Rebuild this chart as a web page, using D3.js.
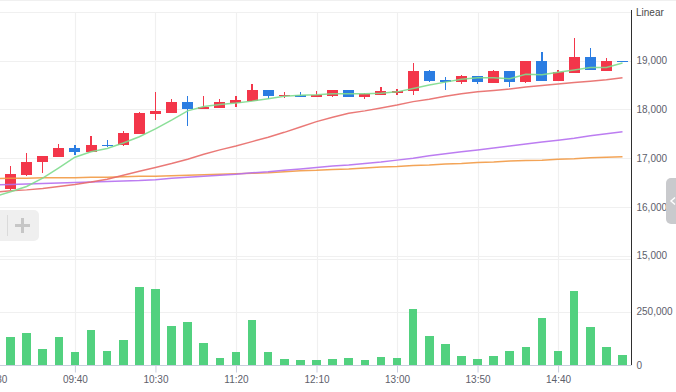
<!DOCTYPE html>
<html>
<head>
<meta charset="utf-8">
<script src="https://cdn.jsdelivr.net/npm/d3@7/dist/d3.min.js"></script>
<style>
    body { margin: 0; background: #ffffff; overflow: hidden; }
    svg text { font-family: "Liberation Sans", Arial, sans-serif; }
</style>
</head>
<body>
<svg class="chart"></svg>
<script>
//
// 10 minute candles for one session, with moving averages and volume underneath.
//

var times = ["09:00", "09:10", "09:20", "09:30", "09:40", "09:50", "10:00", "10:10", "10:20", "10:30",
             "10:40", "10:50", "11:00", "11:10", "11:20", "11:30", "11:40", "11:50", "12:00", "12:10",
             "12:20", "12:30", "12:40", "12:50", "13:00", "13:10", "13:20", "13:30", "13:40", "13:50",
             "14:00", "14:10", "14:20", "14:30", "14:40", "14:50", "15:00", "15:10", "15:20"];

var opens  = [16360, 16660, 16930, 17030, 17210, 17130, 17270, 17270, 17500, 17910,
              17930, 18150, 18010, 18030, 18130, 18170, 18400, 18270, 18300, 18250,
              18280, 18400, 18250, 18300, 18340, 18380, 18790, 18600, 18560, 18690,
              18540, 18790, 18560, 18990, 18580, 18750, 19080, 18790, 19000];
var highs  = [16830, 17110, 17040, 17290, 17270, 17460, 17370, 17560, 17950, 18360,
              18210, 18280, 18280, 18210, 18280, 18520, 18400, 18360, 18360, 18380,
              18400, 18400, 18340, 18460, 18420, 18950, 18810, 18660, 18710, 18690,
              18810, 18790, 18990, 19180, 18810, 19470, 19260, 19050, 19000];
var lows   = [16350, 16640, 16700, 17030, 17070, 17130, 17230, 17250, 17500, 17780,
              17930, 17660, 18010, 18030, 18050, 18170, 18210, 18230, 18250, 18250,
              18250, 18250, 18210, 18300, 18300, 18300, 18560, 18400, 18520, 18520,
              18540, 18460, 18540, 18580, 18580, 18750, 18810, 18790, 19000];
var closes = [16680, 16920, 17040, 17210, 17130, 17270, 17250, 17520, 17930, 17970,
              18150, 18010, 18050, 18150, 18190, 18400, 18280, 18300, 18250, 18300,
              18400, 18250, 18320, 18380, 18380, 18790, 18580, 18560, 18690, 18560,
              18790, 18560, 18990, 18580, 18770, 19080, 18810, 18990, 19000];

var volumes = [131000, 150000, 75000, 131000, 61000, 164000, 66000, 117000, 366000, 356000,
               183000, 202000, 103000, 33000, 61000, 211000, 61000, 28000, 23000, 23000,
               28000, 33000, 23000, 38000, 33000, 263000, 136000, 98000, 42000, 28000,
               42000, 66000, 84000, 220000, 66000, 347000, 178000, 84000, 47000];

// Moving averages. The first value of each belongs to the previous session's last bar (off screen on the left).
var ma5   = [16210, 16310, 16420, 16590, 16800, 17020, 17130, 17200, 17310, 17440, 17600,
             17780, 17970, 18060, 18100, 18130, 18170, 18220, 18270, 18290, 18300,
             18320, 18320, 18320, 18330, 18360, 18430, 18500, 18560, 18620, 18650,
             18650, 18630, 18720, 18710, 18760, 18810, 18860, 18860, 18950];
var ma20  = [16300, 16330, 16350, 16380, 16420, 16460, 16510, 16570, 16650, 16730, 16810,
             16890, 16980, 17080, 17170, 17250, 17340, 17430, 17530, 17640, 17750,
             17840, 17920, 17970, 18030, 18090, 18160, 18210, 18270, 18320, 18360,
             18390, 18420, 18460, 18490, 18520, 18550, 18580, 18610, 18650];
var ma60  = [16450, 16460, 16470, 16480, 16490, 16500, 16510, 16520, 16530, 16540, 16560,
             16590, 16610, 16630, 16650, 16670, 16700, 16720, 16750, 16780, 16810,
             16840, 16860, 16890, 16920, 16960, 17000, 17050, 17090, 17130, 17170,
             17210, 17250, 17290, 17330, 17370, 17410, 17460, 17500, 17540];
var ma120 = [16580, 16590, 16590, 16600, 16600, 16600, 16610, 16610, 16620, 16630, 16630,
             16640, 16650, 16660, 16670, 16680, 16690, 16700, 16720, 16740, 16750,
             16770, 16780, 16800, 16820, 16830, 16850, 16860, 16880, 16890, 16910,
             16920, 16940, 16950, 16960, 16980, 16990, 17010, 17020, 17030];

var priceTicks = [15000, 16000, 17000, 18000, 19000, 20000];
var priceLabels = ["15,000", "16,000", "17,000", "18,000", "19,000"];
var volumeTicks = [0, 250000];
var volumeLabels = ["0", "250,000"];
var timeTickIndex = [-1, 4, 9, 14, 19, 24, 29, 34]; // -1 is the previous session's last bar.
var timeTickLabels = ["10/30", "09:40", "10:30", "11:20", "12:10", "13:00", "13:50", "14:40"];

window.onload = function () {

    var width = 676;
    var height = 392;
    var axisX = 631.5; // Position of the right hand price axis.
    var upColor = "#f3364a";
    var downColor = "#2b7de2";
    var gridColor = "#f0f0f0";
    var textColor = "#5d606b";
    var fontSize = 10;

    var svgElement = d3.select("svg.chart")
        .attr("width", width)
        .attr("height", height);

    var x = d3.scaleLinear() // Bar index to pixel.
        .domain([0, times.length - 1])
        .range([10.5, 622.5]);

    var yPrice = d3.scaleLinear()
        .domain([15000, 20000])
        .range([255.7, 11.9]);

    var yVolume = d3.scaleLinear()
        .domain([0, 500000])
        .range([365, 258.5]);

    // Grid.
    var grid = svgElement.append("g").attr("class", "grid");
    grid.append("line") // Thin line across the very top.
        .attr("x1", 0).attr("x2", width)
        .attr("y1", 0.5).attr("y2", 0.5)
        .attr("stroke", gridColor);
    grid.selectAll("line.price")
        .data(priceTicks)
        .enter()
        .append("line")
            .attr("class", "price")
            .attr("x1", 0).attr("x2", axisX)
            .attr("y1", function (d) { return Math.round(yPrice(d)) + 0.5; })
            .attr("y2", function (d) { return Math.round(yPrice(d)) + 0.5; })
            .attr("stroke", gridColor)
            .attr("stroke-width", 1.2);
    grid.selectAll("line.volume")
        .data([250000, 500000])
        .enter()
        .append("line")
            .attr("class", "volume")
            .attr("x1", 0).attr("x2", axisX)
            .attr("y1", function (d) { return Math.round(yVolume(d)) + 0.5; })
            .attr("y2", function (d) { return Math.round(yVolume(d)) + 0.5; })
            .attr("stroke", gridColor)
            .attr("stroke-width", 1.2);
    grid.selectAll("line.time")
        .data(timeTickIndex)
        .enter()
        .append("line")
            .attr("class", "time")
            .attr("x1", function (d) { return Math.round(x(d)) + 0.5; })
            .attr("x2", function (d) { return Math.round(x(d)) + 0.5; })
            .attr("y1", yPrice(20000))
            .attr("y2", yVolume(0))
            .attr("stroke", gridColor)
            .attr("stroke-width", 1.2);

    // Volume bars.
    svgElement.append("g")
        .selectAll("rect")
        .data(volumes)
        .enter()
        .append("rect")
            .attr("x", function (d, i) { return x(i) - 4.3; })
            .attr("width", 8.6)
            .attr("y", function (d) { return yVolume(d); })
            .attr("height", function (d) { return yVolume(0) - yVolume(d); })
            .attr("fill", "#52d17f")
            .attr("shape-rendering", "crispEdges");

    // Candles.
    var candles = svgElement.append("g")
        .selectAll("g")
        .data(times)
        .enter()
        .append("g")
            .attr("fill", function (d, i) { return closes[i] > opens[i] ? upColor : downColor; })
            .attr("shape-rendering", "crispEdges");

    candles.append("rect") // Wick.
        .attr("x", function (d, i) { return x(i) - 0.6; })
        .attr("width", 1.2)
        .attr("y", function (d, i) { return yPrice(highs[i]); })
        .attr("height", function (d, i) { return Math.max(1, yPrice(lows[i]) - yPrice(highs[i])); });

    candles.append("rect") // Body.
        .attr("x", function (d, i) { return x(i) - 5.5; })
        .attr("width", 11)
        .attr("y", function (d, i) { return yPrice(Math.max(opens[i], closes[i])); })
        .attr("height", function (d, i) { return Math.max(1.3, Math.abs(yPrice(opens[i]) - yPrice(closes[i]))); });

    // Moving average lines, index shifted by one for the leading off screen value.
    var maLine = d3.line()
        .x(function (d, i) { return x(i - 1); })
        .y(function (d) { return yPrice(d); });

    var averages = [
        { values: ma120, color: "#f29a45" },
        { values: ma60, color: "#b56ff0" },
        { values: ma20, color: "#e86a68" },
        { values: ma5, color: "#7edc8d" }
    ];

    svgElement.append("g")
        .selectAll("path")
        .data(averages)
        .enter()
        .append("path")
            .attr("d", function (d) { return maLine(d.values); })
            .attr("fill", "none")
            .attr("stroke", function (d) { return d.color; })
            .attr("stroke-width", 1.5)
            .attr("stroke-opacity", 0.9);

    // Right hand axis.
    svgElement.append("line")
        .attr("x1", axisX).attr("x2", axisX)
        .attr("y1", 10).attr("y2", yVolume(0))
        .attr("stroke", "#2f2f2f")
        .attr("stroke-width", 1);

    var priceAxis = d3.axisRight(yPrice)
        .tickValues(priceTicks.slice(0, 5))
        .tickSize(0)
        .tickPadding(5)
        .tickFormat(function (d, i) { return priceLabels[i]; });

    var volumeAxis = d3.axisRight(yVolume)
        .tickValues(volumeTicks)
        .tickSize(0)
        .tickPadding(5)
        .tickFormat(function (d, i) { return volumeLabels[i]; });

    [priceAxis, volumeAxis].forEach(function (axis) {
        var g = svgElement.append("g")
            .attr("transform", "translate(" + axisX + ",0)")
            .call(axis);
        g.select(".domain").remove();
        g.selectAll("text")
            .attr("fill", textColor)
            .attr("font-size", fontSize)
            .attr("font-family", "Liberation Sans, Arial, sans-serif");
    });

    svgElement.append("text")
        .attr("x", 636)
        .attr("y", 15.5)
        .attr("fill", "#4a4a4a")
        .attr("font-size", fontSize)
        .text("Linear");

    // Time axis under the volume pane.
    svgElement.append("line")
        .attr("x1", 0).attr("x2", axisX)
        .attr("y1", yVolume(0) + 0.5).attr("y2", yVolume(0) + 0.5)
        .attr("stroke", "#c9cedd");

    var timeAxis = svgElement.append("g")
        .attr("transform", "translate(0," + (yVolume(0) + 0.5) + ")")
        .call(d3.axisBottom(x)
            .tickValues(timeTickIndex)
            .tickSize(7)
            .tickPadding(3)
            .tickFormat(function (d, i) { return timeTickLabels[i]; }));
    timeAxis.select(".domain").remove();
    timeAxis.selectAll("line").attr("stroke", "#c9cedd");
    timeAxis.selectAll("text")
        .attr("fill", textColor)
        .attr("font-size", fontSize)
        .attr("font-family", "Liberation Sans, Arial, sans-serif");

    // Zoom button on the left.
    var button = svgElement.append("g");
    button.append("rect")
        .attr("x", -6).attr("y", 210)
        .attr("width", 45).attr("height", 31)
        .attr("rx", 5)
        .attr("fill", "#efefef");
    button.append("line")
        .attr("x1", 7.5).attr("x2", 7.5)
        .attr("y1", 215).attr("y2", 236)
        .attr("stroke", "#dadada");
    button.append("rect")
        .attr("x", 15).attr("y", 224)
        .attr("width", 15).attr("height", 3)
        .attr("fill", "#c6c6c6");
    button.append("rect")
        .attr("x", 21).attr("y", 218)
        .attr("width", 3).attr("height", 15)
        .attr("fill", "#c6c6c6");

    // Collapsed side panel tab on the right.
    var tab = svgElement.append("g");
    tab.append("rect")
        .attr("x", 666).attr("y", 178)
        .attr("width", 20).attr("height", 46)
        .attr("rx", 5)
        .attr("fill", "#c9cacd");
    tab.append("polyline")
        .attr("points", "675,197.5 671,201 675,204.5")
        .attr("fill", "none")
        .attr("stroke", "#ffffff")
        .attr("stroke-width", 1.4);
};
</script>
</body>
</html>
